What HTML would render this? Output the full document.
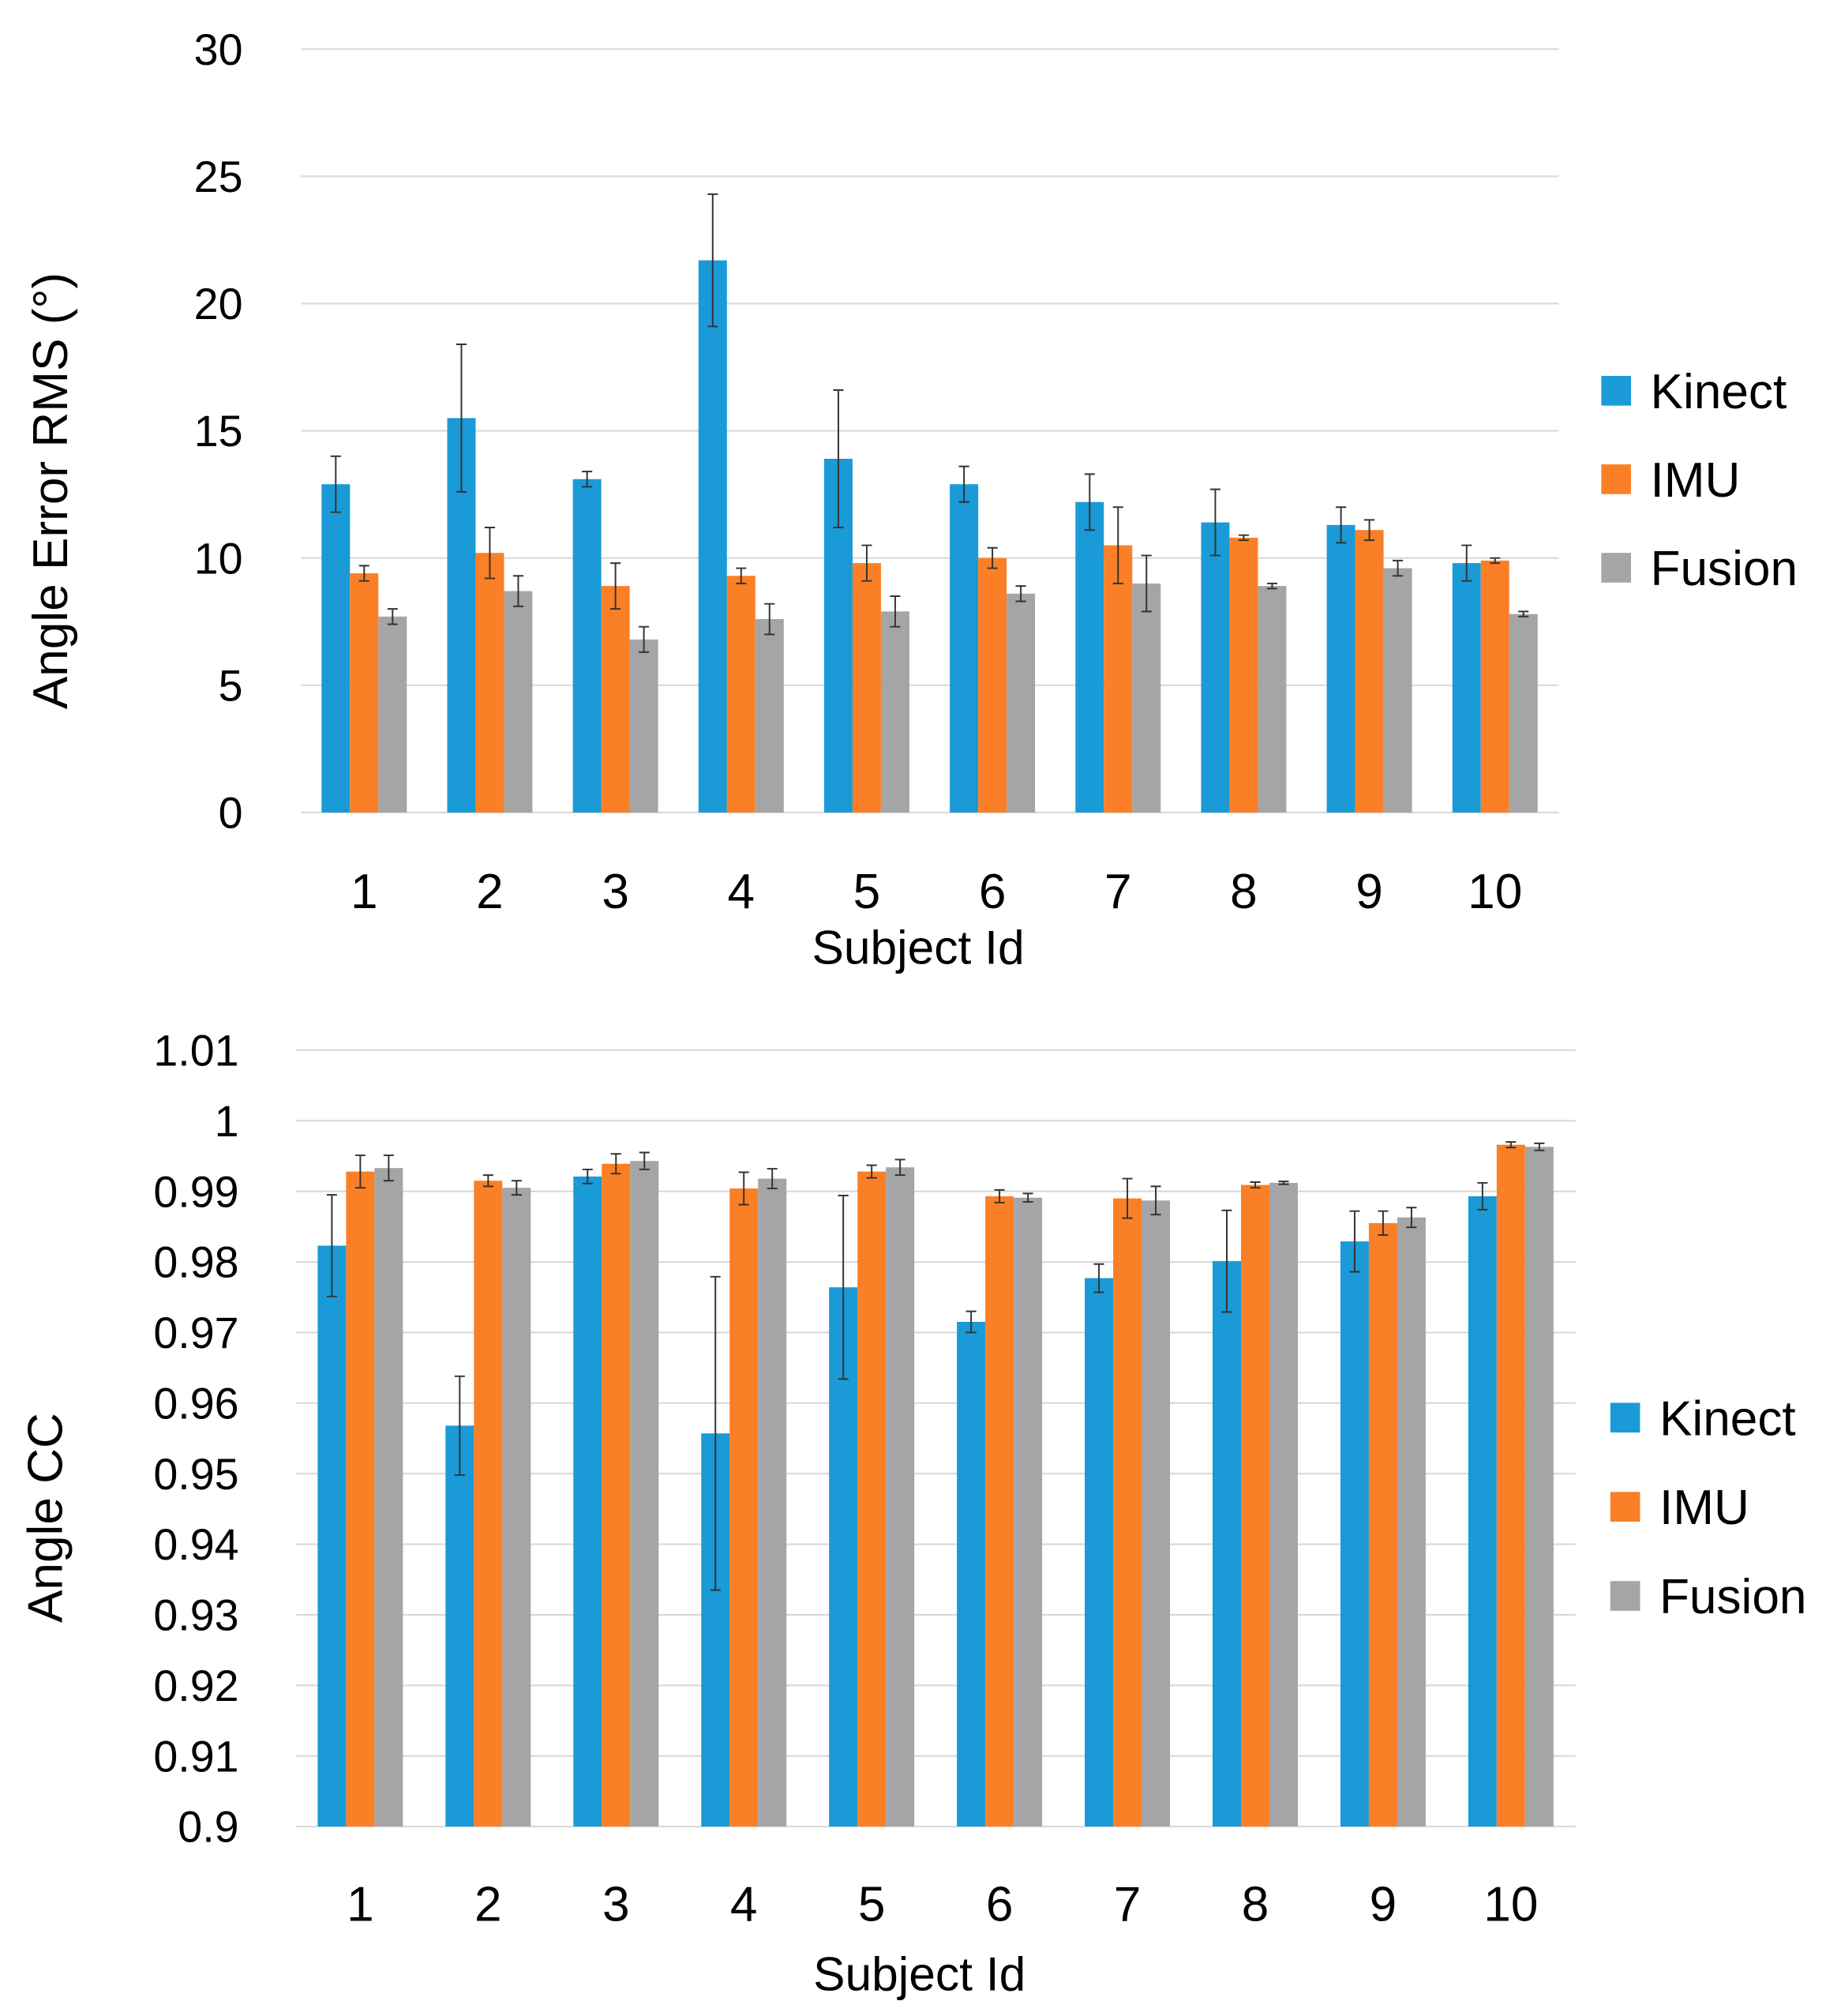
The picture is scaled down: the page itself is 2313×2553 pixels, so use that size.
<!DOCTYPE html>
<html><head><meta charset="utf-8"><style>
html,body{margin:0;padding:0;background:#fff;}
svg{display:block;font-family:"Liberation Sans",sans-serif;}
</style></head><body>
<svg id="fig" width="2313" height="2553" viewBox="0 0 1414 1560.7" xmlns="http://www.w3.org/2000/svg"></svg>
<script>
const categories = ["1","2","3","4","5","6","7","8","9","10"];
const seriesNames = ["Kinect","IMU","Fusion"];
const colors = ["#1a9ad6","#fb7f26","#a5a5a5"];
// top chart: angle error RMS
const rmsKinect = [12.9,15.5,13.1,21.7,13.9,12.9,12.2,11.4,11.3,9.8];
const rmsKinectErr = [1.1,2.9,0.3,2.6,2.7,0.7,1.1,1.3,0.7,0.7];
const rmsImu = [9.4,10.2,8.9,9.3,9.8,10.0,10.5,10.8,11.1,9.9];
const rmsImuErr = [0.3,1.0,0.9,0.3,0.7,0.4,1.5,0.1,0.4,0.1];
const rmsFusion = [7.7,8.7,6.8,7.6,7.9,8.6,9.0,8.9,9.6,7.8];
const rmsFusionErr = [0.3,0.6,0.5,0.6,0.6,0.3,1.1,0.1,0.3,0.1];
const rmsTicks = [0,5,10,15,20,25,30];
// bottom chart: angle CC
const ccKinect = [0.9823,0.9568,0.9921,0.9557,0.9764,0.9715,0.9777,0.9801,0.9829,0.9893];
const ccKinectErr = [0.0072,0.0070,0.0010,0.0222,0.0130,0.0015,0.0020,0.0072,0.0043,0.0019];
const ccImu = [0.9928,0.9915,0.9939,0.9904,0.9928,0.9893,0.9890,0.9909,0.9855,0.9966];
const ccImuErr = [0.0023,0.0008,0.0014,0.0023,0.0009,0.0009,0.0028,0.0004,0.0017,0.0004];
const ccFusion = [0.9933,0.9905,0.9943,0.9918,0.9934,0.9891,0.9887,0.9912,0.9863,0.9963];
const ccFusionErr = [0.0018,0.0010,0.0012,0.0014,0.0011,0.0006,0.0020,0.0002,0.0014,0.0005];
const ccTicks = ["0.9","0.91","0.92","0.93","0.94","0.95","0.96","0.97","0.98","0.99","1","1.01"];

const NS="http://www.w3.org/2000/svg";
const svg=document.getElementById('fig');
function mk(tag,attrs,parent,text){const e=document.createElementNS(NS,tag);for(const k in attrs)e.setAttribute(k,attrs[k]);if(text!==undefined)e.textContent=text;(parent||svg).appendChild(e);return e;}

function chart(cfg){
  const g=mk('g',{});
  
  
  const y=v=>cfg.y0-(v-cfg.vmin)/(cfg.vmax-cfg.vmin)*(cfg.y0-cfg.y1);
  const x=i=>cfg.cx0+i*cfg.step;
  cfg.ticks.forEach(t=>{
    const v=parseFloat(t);
    const l=mk('line',{x1:cfg.px0,x2:cfg.px1,y1:y(v),y2:y(v),stroke:'#d9d9d9','stroke-width':1.3},g);
    
    
    const tx=mk('text',{x:cfg.lx,y:y(v)+12,'text-anchor':'end','font-size':34,fill:'#000'},g,String(t));
    
    
  });
  const bw=cfg.bw;
  categories.forEach((c,i)=>{
    cfg.series.forEach((s,j)=>{
      const bx=x(i)+(j-1.5)*bw;
      const top=y(s.v[i]);
      const r=mk('rect',{x:bx,y:top,width:bw,height:cfg.y0-top,fill:colors[j]},g);
      
      
      const cx=bx+bw/2, ya=y(s.v[i]+s.e[i]), yb=y(s.v[i]-s.e[i]);
      const eb=mk('path',{d:`M${cx},${ya}V${yb}M${cx-4},${ya}H${cx+4}M${cx-4},${yb}H${cx+4}`,stroke:'#333','stroke-width':1.2,fill:'none'},g);
      
      
    });
    const t=mk('text',{x:x(i),y:cfg.xly,'text-anchor':'middle','font-size':38},g,c);
    
    
  });
  const xt=mk('text',{x:cfg.xtx,y:cfg.xty,'text-anchor':'middle','font-size':37},g,'Subject Id');
  
  
  const yt=mk('text',{x:0,y:0,'text-anchor':'middle','font-size':38,transform:`translate(${cfg.ytx},${cfg.yty}) rotate(-90)`},g,cfg.ytitle);
  
  
  seriesNames.forEach((n,j)=>{
    const ly=cfg.legY+j*cfg.legStep;
    const le=mk('g',{},g);
    
    
    mk('rect',{x:cfg.legX,y:ly-12,width:23,height:23,fill:colors[j]},le);
    mk('text',{x:cfg.legX+38,y:ly+13,'font-size':38},le,n);
  });
}

chart({name:'rms-chart',vmin:0,vmax:30,y0:629,y1:38,px0:233,px1:1207,cx0:282,step:97.3,bw:22,
  ticks:rmsTicks,lx:188,xly:703,xtx:711,xty:746,ytx:52,yty:380,ytitle:'Angle Error RMS (°)',
  legX:1240,legY:303,legStep:68.5,
  series:[{v:rmsKinect,e:rmsKinectErr},{v:rmsImu,e:rmsImuErr},{v:rmsFusion,e:rmsFusionErr}]});
chart({name:'cc-chart',vmin:0.9,vmax:1.01,y0:1414,y1:813,px0:229,px1:1220,cx0:279,step:99,bw:22,
  ticks:ccTicks,lx:185,xly:1487,xtx:712,xty:1541,ytx:48,yty:1175,ytitle:'Angle CC',
  legX:1247,legY:1098,legStep:69,
  series:[{v:ccKinect,e:ccKinectErr},{v:ccImu,e:ccImuErr},{v:ccFusion,e:ccFusionErr}]});
</script>
</body></html>
